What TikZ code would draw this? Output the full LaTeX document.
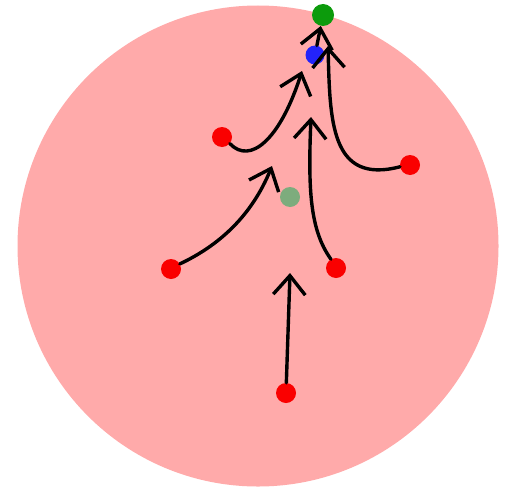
\documentclass[tikz,border=0pt]{standalone}
\usetikzlibrary{arrows.meta}
\definecolor{bgpink}{RGB}{255,170,170}
\definecolor{dotred}{RGB}{250,0,0}
\definecolor{dotgreen}{RGB}{12,155,12}
\definecolor{dotblue}{RGB}{35,35,250}
\definecolor{dotgray}{RGB}{125,172,125}
\tikzset{
  dot/.style={circle, inner sep=0pt, minimum size=#1, draw=none},
  reddot/.style={dot=20pt, fill=dotred},
  flow/.style={line width=3.4pt, line cap=round, line join=round, black,
    -{Straight Barb[length=19pt, width=32pt, line width=3.4pt]}}
}
\begin{document}
\begin{tikzpicture}[x=1pt,y=-1pt]
\useasboundingbox (0,0) rectangle (510,487);
\fill[bgpink] (258,246) circle (240.5);
% dots
\node[dot=22pt, fill=dotgreen] (green) at (323,15) {};
\node[dot=19pt, fill=dotblue] (blue) at (315,55) {};
\node[reddot] (ru) at (222,137) {};
\node[reddot] (rr) at (410,165) {};
\node[dot=20pt, fill=dotgray] (gg) at (290,197) {};
\node[reddot] (rl) at (171,269) {};
\node[reddot] (rm) at (336,268) {};
\node[reddot] (rb) at (286,393) {};
% arrow tips (free ends)
\coordinate (t1) at (290,273);
\coordinate (t2) at (272,166);
\coordinate (t3) at (311,117);
\coordinate (t4) at (302,71);
\coordinate (t5) at (328,46);
% connectors
\draw[flow] (rb) -- (t1);
\draw[flow] (rl.30) .. controls (220,245) and (252,215) .. (t2);
\draw[flow] (rm.120) .. controls (310,230) and (308,190) .. (t3);
\draw[flow] (ru.-40) .. controls (250,165) and (280,140) .. (t4);
\draw[flow] (rr.190) .. controls (330,185) and (330,120) .. (t5);
\draw[flow] (blue) -- (green);
\end{tikzpicture}
\end{document}
